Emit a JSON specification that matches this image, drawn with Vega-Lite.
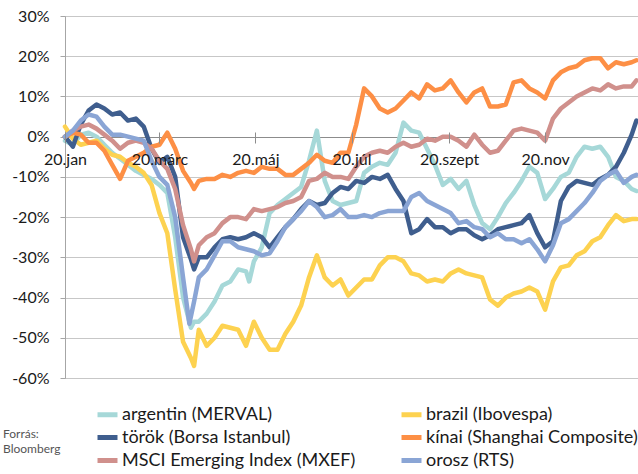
{
  "$schema": "https://vega.github.io/schema/vega-lite/v6.json",
  "width": 573,
  "height": 362,
  "autosize": "none",
  "padding": {"left": 65, "top": 16, "right": 0, "bottom": 96},
  "config": {
    "view": {"stroke": null},
    "font": "Lato"
  },
  "datasets": {
    "argentin": [
      {"date":"2020-01-01","pct":-1},{"date":"2020-01-06","pct":-2},{"date":"2020-01-11","pct":0.5},{"date":"2020-01-16","pct":1},
      {"date":"2020-01-21","pct":0},{"date":"2020-01-26","pct":-2},{"date":"2020-01-31","pct":-4},{"date":"2020-02-05","pct":-5.5},
      {"date":"2020-02-10","pct":-7},{"date":"2020-02-15","pct":-8.5},{"date":"2020-02-20","pct":-9.5},{"date":"2020-02-25","pct":-10.5},
      {"date":"2020-03-01","pct":-12},{"date":"2020-03-06","pct":-14},{"date":"2020-03-11","pct":-25},{"date":"2020-03-16","pct":-40},
      {"date":"2020-03-21","pct":-47.5},{"date":"2020-03-23","pct":-46},{"date":"2020-03-26","pct":-46},{"date":"2020-03-31","pct":-44},
      {"date":"2020-04-05","pct":-41},{"date":"2020-04-10","pct":-37},{"date":"2020-04-15","pct":-36},{"date":"2020-04-20","pct":-33},
      {"date":"2020-04-25","pct":-33.5},{"date":"2020-04-27","pct":-36},{"date":"2020-04-30","pct":-31},{"date":"2020-05-05","pct":-27.5},{"date":"2020-05-10","pct":-19},
      {"date":"2020-05-15","pct":-17},{"date":"2020-05-20","pct":-15.5},{"date":"2020-05-25","pct":-14},{"date":"2020-05-30","pct":-12.5},
      {"date":"2020-06-04","pct":-6},{"date":"2020-06-09","pct":1.5},{"date":"2020-06-14","pct":-11},{"date":"2020-06-19","pct":-16},
      {"date":"2020-06-24","pct":-17},{"date":"2020-06-29","pct":-16.5},{"date":"2020-07-04","pct":-16},{"date":"2020-07-09","pct":-9},
      {"date":"2020-07-14","pct":-7.5},{"date":"2020-07-19","pct":-6.5},{"date":"2020-07-24","pct":-7},{"date":"2020-07-29","pct":-4},
      {"date":"2020-08-03","pct":3.5},{"date":"2020-08-08","pct":1.5},{"date":"2020-08-13","pct":1},{"date":"2020-08-18","pct":-3},
      {"date":"2020-08-23","pct":-7},{"date":"2020-08-28","pct":-12},{"date":"2020-09-02","pct":-10.5},{"date":"2020-09-07","pct":-13},
      {"date":"2020-09-12","pct":-11},{"date":"2020-09-17","pct":-17},{"date":"2020-09-22","pct":-21.5},{"date":"2020-09-27","pct":-23},
      {"date":"2020-10-02","pct":-20},{"date":"2020-10-07","pct":-16.5},{"date":"2020-10-12","pct":-14},{"date":"2020-10-17","pct":-11},
      {"date":"2020-10-22","pct":-7.5},{"date":"2020-10-27","pct":-9},{"date":"2020-11-01","pct":-15.5},{"date":"2020-11-06","pct":-13},
      {"date":"2020-11-11","pct":-10},{"date":"2020-11-16","pct":-9},{"date":"2020-11-21","pct":-5},{"date":"2020-11-26","pct":-2.5},
      {"date":"2020-12-01","pct":-3},{"date":"2020-12-06","pct":-2.5},{"date":"2020-12-11","pct":-5},{"date":"2020-12-16","pct":-10},
      {"date":"2020-12-21","pct":-11},{"date":"2020-12-26","pct":-13},{"date":"2020-12-29","pct":-13.5}
    ],
    "brazil": [
      {"date":"2020-01-01","pct":2.5},{"date":"2020-01-06","pct":-0.5},{"date":"2020-01-11","pct":-2},{"date":"2020-01-16","pct":-1.5},
      {"date":"2020-01-21","pct":-1},{"date":"2020-01-26","pct":-3},{"date":"2020-01-31","pct":-4.5},{"date":"2020-02-05","pct":-5},
      {"date":"2020-02-10","pct":-6.5},{"date":"2020-02-15","pct":-7.5},{"date":"2020-02-20","pct":-9},{"date":"2020-02-25","pct":-12},
      {"date":"2020-03-01","pct":-19},{"date":"2020-03-06","pct":-24},{"date":"2020-03-11","pct":-38},{"date":"2020-03-16","pct":-51},
      {"date":"2020-03-21","pct":-55},{"date":"2020-03-23","pct":-57},{"date":"2020-03-26","pct":-48},{"date":"2020-03-31","pct":-52},
      {"date":"2020-04-05","pct":-50},{"date":"2020-04-10","pct":-47},{"date":"2020-04-15","pct":-47.5},{"date":"2020-04-20","pct":-48},
      {"date":"2020-04-25","pct":-52},{"date":"2020-04-30","pct":-46},{"date":"2020-05-05","pct":-50},{"date":"2020-05-10","pct":-53},
      {"date":"2020-05-15","pct":-53},{"date":"2020-05-20","pct":-49},{"date":"2020-05-25","pct":-46},{"date":"2020-05-30","pct":-42},
      {"date":"2020-06-04","pct":-35},{"date":"2020-06-09","pct":-29.5},{"date":"2020-06-14","pct":-35},{"date":"2020-06-19","pct":-37},
      {"date":"2020-06-24","pct":-35.5},{"date":"2020-06-29","pct":-39.5},{"date":"2020-07-04","pct":-37.5},{"date":"2020-07-09","pct":-35.5},
      {"date":"2020-07-14","pct":-35.5},{"date":"2020-07-19","pct":-32},{"date":"2020-07-24","pct":-30},{"date":"2020-07-29","pct":-30},
      {"date":"2020-08-03","pct":-31},{"date":"2020-08-08","pct":-34},{"date":"2020-08-13","pct":-34.5},{"date":"2020-08-18","pct":-36},
      {"date":"2020-08-23","pct":-35.5},{"date":"2020-08-28","pct":-36},{"date":"2020-09-02","pct":-34},{"date":"2020-09-07","pct":-33},
      {"date":"2020-09-12","pct":-34},{"date":"2020-09-17","pct":-34.5},{"date":"2020-09-22","pct":-35},{"date":"2020-09-27","pct":-40.5},
      {"date":"2020-10-02","pct":-42},{"date":"2020-10-07","pct":-40},{"date":"2020-10-12","pct":-39},{"date":"2020-10-17","pct":-38.5},
      {"date":"2020-10-22","pct":-37.5},{"date":"2020-10-27","pct":-38.5},{"date":"2020-11-01","pct":-43},{"date":"2020-11-06","pct":-36},
      {"date":"2020-11-11","pct":-32.5},{"date":"2020-11-16","pct":-32},{"date":"2020-11-21","pct":-29.5},{"date":"2020-11-26","pct":-28.5},
      {"date":"2020-12-01","pct":-26},{"date":"2020-12-06","pct":-25},{"date":"2020-12-11","pct":-22},{"date":"2020-12-16","pct":-19.5},
      {"date":"2020-12-21","pct":-21},{"date":"2020-12-26","pct":-20.5},{"date":"2020-12-29","pct":-20.5}
    ],
    "torok": [
      {"date":"2020-01-01","pct":0},{"date":"2020-01-06","pct":-2.5},{"date":"2020-01-11","pct":3},{"date":"2020-01-16","pct":6.5},
      {"date":"2020-01-21","pct":8},{"date":"2020-01-26","pct":7},{"date":"2020-01-31","pct":5.5},{"date":"2020-02-05","pct":6},
      {"date":"2020-02-10","pct":4},{"date":"2020-02-15","pct":4.5},{"date":"2020-02-20","pct":2.5},{"date":"2020-02-25","pct":-3},
      {"date":"2020-03-01","pct":-6.5},{"date":"2020-03-06","pct":-5},{"date":"2020-03-11","pct":-10},{"date":"2020-03-16","pct":-25},
      {"date":"2020-03-21","pct":-30.5},{"date":"2020-03-23","pct":-33},{"date":"2020-03-26","pct":-30},{"date":"2020-03-31","pct":-30},
      {"date":"2020-04-05","pct":-27.5},{"date":"2020-04-10","pct":-25.5},{"date":"2020-04-15","pct":-25},{"date":"2020-04-20","pct":-25.5},
      {"date":"2020-04-25","pct":-25},{"date":"2020-04-30","pct":-24},{"date":"2020-05-05","pct":-25},{"date":"2020-05-10","pct":-27.5},
      {"date":"2020-05-15","pct":-25},{"date":"2020-05-20","pct":-22.5},{"date":"2020-05-25","pct":-20.5},{"date":"2020-05-30","pct":-18},
      {"date":"2020-06-04","pct":-16},{"date":"2020-06-09","pct":-17},{"date":"2020-06-14","pct":-16.5},{"date":"2020-06-19","pct":-14},
      {"date":"2020-06-24","pct":-12.5},{"date":"2020-06-29","pct":-13},{"date":"2020-07-04","pct":-11},{"date":"2020-07-09","pct":-11.5},
      {"date":"2020-07-14","pct":-10},{"date":"2020-07-19","pct":-10.5},{"date":"2020-07-24","pct":-9.5},{"date":"2020-07-29","pct":-13},
      {"date":"2020-08-03","pct":-16},{"date":"2020-08-08","pct":-24},{"date":"2020-08-13","pct":-23},{"date":"2020-08-18","pct":-20.5},
      {"date":"2020-08-23","pct":-22.5},{"date":"2020-08-28","pct":-22.5},{"date":"2020-09-02","pct":-24},{"date":"2020-09-07","pct":-23},
      {"date":"2020-09-12","pct":-23},{"date":"2020-09-17","pct":-24.5},{"date":"2020-09-22","pct":-25.5},{"date":"2020-09-27","pct":-24.5},
      {"date":"2020-10-02","pct":-23},{"date":"2020-10-07","pct":-22.5},{"date":"2020-10-12","pct":-22},{"date":"2020-10-17","pct":-21.5},
      {"date":"2020-10-22","pct":-19.5},{"date":"2020-10-27","pct":-24},{"date":"2020-11-01","pct":-27.5},{"date":"2020-11-06","pct":-26},
      {"date":"2020-11-11","pct":-16},{"date":"2020-11-16","pct":-12.5},{"date":"2020-11-21","pct":-11},{"date":"2020-11-26","pct":-11.5},
      {"date":"2020-12-01","pct":-12},{"date":"2020-12-06","pct":-10.5},{"date":"2020-12-11","pct":-9.5},{"date":"2020-12-16","pct":-7.5},
      {"date":"2020-12-21","pct":-4},{"date":"2020-12-26","pct":0.5},{"date":"2020-12-29","pct":4}
    ],
    "kinai": [
      {"date":"2020-01-01","pct":0},{"date":"2020-01-06","pct":1},{"date":"2020-01-11","pct":0.5},{"date":"2020-01-16","pct":-1.5},
      {"date":"2020-01-21","pct":-1.5},{"date":"2020-01-26","pct":-3.5},{"date":"2020-01-31","pct":-7},{"date":"2020-02-05","pct":-10.5},
      {"date":"2020-02-10","pct":-6},{"date":"2020-02-15","pct":-5},{"date":"2020-02-20","pct":-4},{"date":"2020-02-25","pct":-2.5},
      {"date":"2020-03-01","pct":-2},{"date":"2020-03-06","pct":1},{"date":"2020-03-11","pct":-3},{"date":"2020-03-16","pct":-8.5},
      {"date":"2020-03-21","pct":-11.5},{"date":"2020-03-23","pct":-13},{"date":"2020-03-26","pct":-11},{"date":"2020-03-31","pct":-10.5},
      {"date":"2020-04-05","pct":-10.5},{"date":"2020-04-10","pct":-9.5},{"date":"2020-04-15","pct":-10},{"date":"2020-04-20","pct":-9},
      {"date":"2020-04-25","pct":-8.5},{"date":"2020-04-30","pct":-9},{"date":"2020-05-05","pct":-7.5},{"date":"2020-05-10","pct":-8},
      {"date":"2020-05-15","pct":-8},{"date":"2020-05-20","pct":-9.5},{"date":"2020-05-25","pct":-9.5},{"date":"2020-05-30","pct":-8},
      {"date":"2020-06-04","pct":-6.5},{"date":"2020-06-09","pct":-4.5},{"date":"2020-06-14","pct":-6},{"date":"2020-06-19","pct":-6.5},
      {"date":"2020-06-24","pct":-4},{"date":"2020-06-29","pct":-4},{"date":"2020-07-04","pct":3},{"date":"2020-07-09","pct":12},
      {"date":"2020-07-14","pct":10},{"date":"2020-07-19","pct":7},{"date":"2020-07-24","pct":6},{"date":"2020-07-29","pct":7},
      {"date":"2020-08-03","pct":9},{"date":"2020-08-08","pct":11},{"date":"2020-08-13","pct":9.5},{"date":"2020-08-18","pct":13},
      {"date":"2020-08-23","pct":11.5},{"date":"2020-08-28","pct":12},{"date":"2020-09-02","pct":14},{"date":"2020-09-07","pct":11},
      {"date":"2020-09-12","pct":8.5},{"date":"2020-09-17","pct":11},{"date":"2020-09-22","pct":12},{"date":"2020-09-27","pct":7.5},
      {"date":"2020-10-02","pct":7.5},{"date":"2020-10-07","pct":8},{"date":"2020-10-12","pct":13.5},{"date":"2020-10-17","pct":14},
      {"date":"2020-10-22","pct":12},{"date":"2020-10-27","pct":11},{"date":"2020-11-01","pct":9.5},{"date":"2020-11-06","pct":14},
      {"date":"2020-11-11","pct":16},{"date":"2020-11-16","pct":17},{"date":"2020-11-21","pct":17.5},{"date":"2020-11-26","pct":19},
      {"date":"2020-12-01","pct":19.5},{"date":"2020-12-06","pct":19.5},{"date":"2020-12-11","pct":17},{"date":"2020-12-16","pct":18.5},
      {"date":"2020-12-21","pct":18},{"date":"2020-12-26","pct":18.5},{"date":"2020-12-29","pct":19}
    ],
    "msci": [
      {"date":"2020-01-01","pct":0},{"date":"2020-01-06","pct":1.5},{"date":"2020-01-11","pct":2.5},{"date":"2020-01-16","pct":3},
      {"date":"2020-01-21","pct":2},{"date":"2020-01-26","pct":0.5},{"date":"2020-01-31","pct":-1},{"date":"2020-02-05","pct":-3},
      {"date":"2020-02-10","pct":-1.5},{"date":"2020-02-15","pct":-1},{"date":"2020-02-20","pct":-1.5},{"date":"2020-02-25","pct":-3},
      {"date":"2020-03-01","pct":-6},{"date":"2020-03-06","pct":-8},{"date":"2020-03-11","pct":-13},{"date":"2020-03-16","pct":-22},
      {"date":"2020-03-21","pct":-28},{"date":"2020-03-23","pct":-31},{"date":"2020-03-26","pct":-27},{"date":"2020-03-31","pct":-25},
      {"date":"2020-04-05","pct":-24},{"date":"2020-04-10","pct":-21.5},{"date":"2020-04-15","pct":-20},{"date":"2020-04-20","pct":-20},
      {"date":"2020-04-25","pct":-20.5},{"date":"2020-04-30","pct":-18},{"date":"2020-05-05","pct":-18.5},{"date":"2020-05-10","pct":-18},
      {"date":"2020-05-15","pct":-17.5},{"date":"2020-05-20","pct":-16.5},{"date":"2020-05-25","pct":-16},{"date":"2020-05-30","pct":-15},
      {"date":"2020-06-04","pct":-11},{"date":"2020-06-09","pct":-10.5},{"date":"2020-06-14","pct":-9},{"date":"2020-06-19","pct":-10},
      {"date":"2020-06-24","pct":-10},{"date":"2020-06-29","pct":-10.5},{"date":"2020-07-04","pct":-7.5},{"date":"2020-07-09","pct":-5},
      {"date":"2020-07-14","pct":-4},{"date":"2020-07-19","pct":-3.5},{"date":"2020-07-24","pct":-4},{"date":"2020-07-29","pct":-2.5},
      {"date":"2020-08-03","pct":-1.5},{"date":"2020-08-08","pct":-2.5},{"date":"2020-08-13","pct":-2},{"date":"2020-08-18","pct":-0.5},
      {"date":"2020-08-23","pct":-1},{"date":"2020-08-28","pct":0},{"date":"2020-09-02","pct":0},{"date":"2020-09-07","pct":-1},
      {"date":"2020-09-12","pct":-2.5},{"date":"2020-09-17","pct":0.5},{"date":"2020-09-22","pct":-2},{"date":"2020-09-27","pct":-4},
      {"date":"2020-10-02","pct":-3.5},{"date":"2020-10-07","pct":-1},{"date":"2020-10-12","pct":1.5},{"date":"2020-10-17","pct":2},
      {"date":"2020-10-22","pct":1.5},{"date":"2020-10-27","pct":1},{"date":"2020-11-01","pct":-1},{"date":"2020-11-06","pct":4.5},
      {"date":"2020-11-11","pct":7},{"date":"2020-11-16","pct":8.5},{"date":"2020-11-21","pct":10},{"date":"2020-11-26","pct":11},
      {"date":"2020-12-01","pct":12},{"date":"2020-12-06","pct":11.5},{"date":"2020-12-11","pct":13},{"date":"2020-12-16","pct":12},
      {"date":"2020-12-21","pct":12.5},{"date":"2020-12-26","pct":12.5},{"date":"2020-12-29","pct":14}
    ],
    "orosz": [
      {"date":"2020-01-01","pct":0},{"date":"2020-01-06","pct":1.5},{"date":"2020-01-11","pct":4},{"date":"2020-01-16","pct":5.5},
      {"date":"2020-01-21","pct":5},{"date":"2020-01-26","pct":2.5},{"date":"2020-01-31","pct":0.5},{"date":"2020-02-05","pct":0.5},
      {"date":"2020-02-10","pct":0},{"date":"2020-02-15","pct":-0.5},{"date":"2020-02-20","pct":-1},{"date":"2020-02-25","pct":-6},
      {"date":"2020-03-01","pct":-10},{"date":"2020-03-06","pct":-12},{"date":"2020-03-11","pct":-20},{"date":"2020-03-16","pct":-35},
      {"date":"2020-03-20","pct":-46.5},{"date":"2020-03-23","pct":-41},{"date":"2020-03-26","pct":-35},{"date":"2020-03-31","pct":-33},
      {"date":"2020-04-05","pct":-29.5},{"date":"2020-04-10","pct":-26},{"date":"2020-04-15","pct":-26},{"date":"2020-04-20","pct":-27.5},
      {"date":"2020-04-25","pct":-28},{"date":"2020-04-30","pct":-28.5},{"date":"2020-05-05","pct":-29.5},{"date":"2020-05-10","pct":-29},
      {"date":"2020-05-15","pct":-26},{"date":"2020-05-20","pct":-22.5},{"date":"2020-05-25","pct":-20.5},{"date":"2020-05-30","pct":-18.5},
      {"date":"2020-06-04","pct":-16},{"date":"2020-06-09","pct":-17.5},{"date":"2020-06-14","pct":-20},{"date":"2020-06-19","pct":-19.5},
      {"date":"2020-06-24","pct":-18},{"date":"2020-06-29","pct":-20},{"date":"2020-07-04","pct":-20},{"date":"2020-07-09","pct":-19.5},
      {"date":"2020-07-14","pct":-20},{"date":"2020-07-19","pct":-19},{"date":"2020-07-24","pct":-18.5},{"date":"2020-07-29","pct":-18.5},
      {"date":"2020-08-03","pct":-18.5},{"date":"2020-08-08","pct":-15},{"date":"2020-08-13","pct":-14},{"date":"2020-08-18","pct":-16},
      {"date":"2020-08-23","pct":-17},{"date":"2020-08-28","pct":-18},{"date":"2020-09-02","pct":-19},{"date":"2020-09-07","pct":-21.5},
      {"date":"2020-09-12","pct":-21},{"date":"2020-09-17","pct":-22.5},{"date":"2020-09-22","pct":-23},{"date":"2020-09-27","pct":-25},
      {"date":"2020-10-02","pct":-24},{"date":"2020-10-07","pct":-25.5},{"date":"2020-10-12","pct":-25.5},{"date":"2020-10-17","pct":-26.5},
      {"date":"2020-10-22","pct":-25.5},{"date":"2020-10-27","pct":-28},{"date":"2020-11-01","pct":-31},{"date":"2020-11-06","pct":-27},
      {"date":"2020-11-11","pct":-21.5},{"date":"2020-11-16","pct":-20.5},{"date":"2020-11-21","pct":-18.5},{"date":"2020-11-26","pct":-16.5},
      {"date":"2020-12-01","pct":-14},{"date":"2020-12-06","pct":-11},{"date":"2020-12-11","pct":-9.5},{"date":"2020-12-16","pct":-8.5},
      {"date":"2020-12-21","pct":-11.5},{"date":"2020-12-26","pct":-10},{"date":"2020-12-29","pct":-9.5}
    ]
  },
  "encoding": {
    "x": {
      "field": "date",
      "type": "temporal",
      "scale": {
        "type": "utc",
        "domain": [
          {"year": 2020, "month": 1, "date": 1, "utc": true},
          {"year": 2020, "month": 12, "date": 30, "utc": true}
        ]
      },
      "axis": {
        "title": null,
        "values": [
          {"year": 2020, "month": 1, "date": 1, "utc": true},
          {"year": 2020, "month": 3, "date": 1, "utc": true},
          {"year": 2020, "month": 5, "date": 1, "utc": true},
          {"year": 2020, "month": 7, "date": 1, "utc": true},
          {"year": 2020, "month": 9, "date": 1, "utc": true},
          {"year": 2020, "month": 11, "date": 1, "utc": true}
        ],
        "labelExpr": "'20.' + ['jan','febr','márc','ápr','máj','jún','júl','aug','szept','okt','nov','dec'][utcmonth(datum.value)]",
        "offset": -246,
        "domain": false,
        "grid": false,
        "tickSize": 11,
        "tickColor": "#8c8c8c",
        "labelPadding": 8,
        "labelFont": "Lato",
        "labelFontSize": 16,
        "labelColor": "#1a1a1a",
        "labelFlush": false,
        "labelOverlap": false,
        "zindex": 1
      }
    },
    "y": {
      "field": "pct",
      "type": "quantitative",
      "scale": {"domain": [-60, 30], "nice": false, "zero": false},
      "axis": {
        "title": null,
        "values": [-60, -50, -40, -30, -20, -10, 0, 10, 20, 30],
        "labelExpr": "datum.value + '%'",
        "domainColor": "#a6a6a6",
        "tickSize": 5,
        "tickColor": "#a6a6a6",
        "labelPadding": 11,
        "labelFont": "Lato",
        "labelFontSize": 16,
        "labelColor": "#1a1a1a",
        "gridColor": {"condition": {"test": "datum.value === 0", "value": "#8c8c8c"}, "value": "#8f8f8f"},
        "gridDash": {"condition": {"test": "datum.value === 0", "value": []}, "value": [1, 1]}
      }
    }
  },
  "layer": [
    {
      "data": {"name": "argentin"},
      "mark": {"type": "line", "strokeWidth": 4.5, "strokeJoin": "round", "strokeCap": "round"},
      "encoding": {
        "color": {
          "datum": "argentin (MERVAL)",
          "type": "nominal",
          "scale": {
            "domain": ["argentin (MERVAL)", "török (Borsa Istanbul)", "MSCI Emerging Index (MXEF)", "brazil (Ibovespa)", "kínai (Shanghai Composite)", "orosz (RTS)"],
            "range": ["#a6d8d8", "#3f5e8e", "#d0908c", "#fdd250", "#fd8f45", "#8aa5d5"]
          },
          "legend": {
            "orient": "none",
            "legendX": -62,
            "legendY": 386,
            "columns": 2,
            "padding": 0,
            "title": ["Forrás:", "Bloomberg"],
            "titleOrient": "left",
            "titleAnchor": "middle",
            "titleBaseline": "top",
            "titleFont": "Lato",
            "titleFontSize": 12,
            "titleFontWeight": "normal",
            "titleColor": "#555555",
            "titleLineHeight": 15,
            "titlePadding": 34,
            "symbolType": "stroke",
            "symbolSize": 400,
            "symbolStrokeWidth": 5,
            "labelFont": "Lato",
            "labelFontSize": 18,
            "labelColor": "#1a1a1a",
            "labelOffset": 2,
            "labelLimit": 400,
            "columnPadding": 35,
            "rowPadding": -2
          }
        }
      }
    },
    {
      "data": {"name": "brazil"},
      "mark": {"type": "line", "strokeWidth": 4.5, "strokeJoin": "round", "strokeCap": "round"},
      "encoding": {"color": {"datum": "brazil (Ibovespa)", "type": "nominal"}}
    },
    {
      "data": {"name": "torok"},
      "mark": {"type": "line", "strokeWidth": 4.5, "strokeJoin": "round", "strokeCap": "round"},
      "encoding": {"color": {"datum": "török (Borsa Istanbul)", "type": "nominal"}}
    },
    {
      "data": {"name": "kinai"},
      "mark": {"type": "line", "strokeWidth": 4.5, "strokeJoin": "round", "strokeCap": "round"},
      "encoding": {"color": {"datum": "kínai (Shanghai Composite)", "type": "nominal"}}
    },
    {
      "data": {"name": "msci"},
      "mark": {"type": "line", "strokeWidth": 4.5, "strokeJoin": "round", "strokeCap": "round"},
      "encoding": {"color": {"datum": "MSCI Emerging Index (MXEF)", "type": "nominal"}}
    },
    {
      "data": {"name": "orosz"},
      "mark": {"type": "line", "strokeWidth": 4.5, "strokeJoin": "round", "strokeCap": "round"},
      "encoding": {"color": {"datum": "orosz (RTS)", "type": "nominal"}}
    }
  ]
}
